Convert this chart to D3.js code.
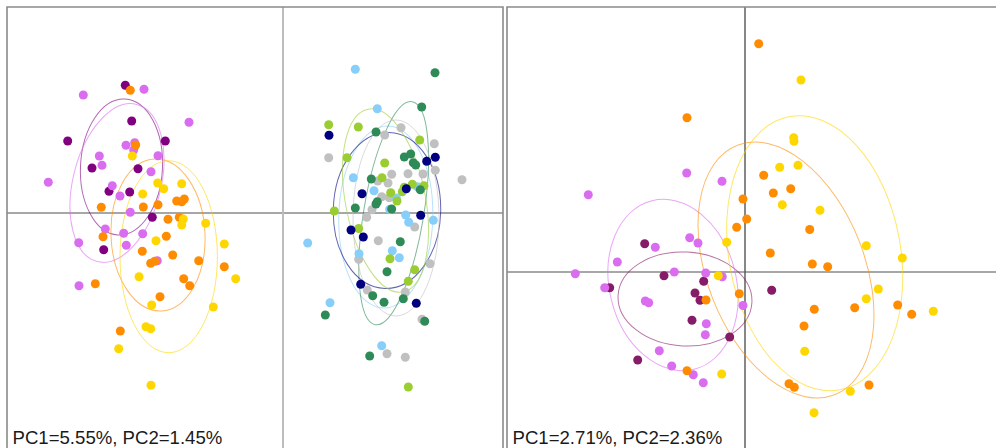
<!DOCTYPE html>
<html>
<head>
<meta charset="utf-8">
<script src="https://cdn.jsdelivr.net/npm/d3@7"></script>
<style>
  html, body { margin: 0; padding: 0; background: #fff; }
  svg { display: block; }
</style>
</head>
<body>
<svg id="chart" width="996" height="448"></svg>
<script>
// ---------------- DATA (PC scores, arbitrary units) ----------------
// Left panel groups
const leftDarkPurple = [[-1.577,1.277],[-1.513,0.92],[-2.153,0.72],[-1.177,0.72],[-1.91,0.45],[-1.45,0.443],[-1.74,0.217],[-1.533,0.21],[-1.307,-0.043],[-1.793,-0.367]];
const leftViolet = [[-1.997,1.18],[-1.39,1.237],[-0.94,0.907],[-1.57,0.677],[-1.483,0.703],[-1.493,0.63],[-1.837,0.57],[-1.81,0.477],[-1.25,0.573],[-1.32,0.413],[-2.347,0.307],[-1.707,0.273],[-1.63,0.17],[-1.527,0.007],[-1.777,-0.16],[-1.593,-0.203],[-1.403,-0.207],[-2.043,-0.297],[-1.567,-0.323],[-1.257,-0.477],[-2.04,-0.727]];
const leftOrange = [[-1.527,1.227],[-1.473,0.68],[-1.063,0.12],[-1.013,0.113],[-0.987,0.14],[-1.25,0.083],[-1.817,0.057],[-1.397,0.06],[-1.15,-0.063],[-1.037,-0.043],[-1.8,-0.237],[-1.167,-0.233],[-1.407,-0.383],[-1.103,-0.42],[-1.283,-0.483],[-1.323,-0.503],[-0.843,-0.477],[-0.587,-0.537],[-0.993,-0.657],[-0.933,-0.727],[-1.877,-0.707],[-1.23,-0.837],[-1.627,-1.18]];
const leftGold = [[-1.507,0.57],[-1.253,0.3],[-1.013,0.293],[-1.193,0.243],[-1.403,0.19],[-0.997,-0.06],[-1.013,-0.12],[-0.773,-0.103],[-1.27,-0.277],[-0.587,-0.31],[-1.44,-0.637],[-0.473,-0.657],[-1.313,-0.92],[-0.697,-0.94],[-1.37,-1.137],[-1.323,-1.157],[-1.643,-1.357],[-1.32,-1.723]];
const leftSky = [[0.723,1.437],[0.943,1.043],[0.703,0.353],[1.343,0.263],[0.91,0.223],[1.133,0.15],[1.067,0.037],[1.227,-0.02],[1.257,-0.093],[1.503,-0.073],[0.247,-0.3],[1.093,-0.377],[1.163,-0.447],[0.76,-0.407],[0.47,-0.897],[0.987,-1.327]];
const leftGreen = [[1.52,1.403],[1.387,1.06],[0.93,0.81],[1.213,0.56],[1.277,0.59],[1.303,0.503],[1.327,0.48],[0.883,0.34],[1.373,0.233],[0.943,0.113],[0.93,0.09],[0.723,0.05],[1.087,0.04],[1.173,-0.287],[1.04,-0.587],[0.897,-0.827],[1.01,-0.893],[1.203,-0.857],[0.423,-1.02],[1.417,-1.083],[0.867,-1.43]];
const leftNavy = [[0.46,0.777],[1.437,0.517],[1.523,0.557],[1.233,0.243],[0.79,0.193],[1.377,-0.023],[0.68,-0.17],[0.803,-0.24],[0.777,-0.713],[1.333,-0.903]];
const leftLime = [[0.457,0.883],[0.753,0.86],[1.367,0.73],[0.64,0.553],[1.017,0.5],[0.99,0.353],[1.213,0.257],[1.293,0.287],[1.41,0.273],[1.077,0.203],[1.14,0.12],[1.193,0.213],[0.513,0.02],[0.757,-0.155],[1.07,-0.457],[1.317,-0.567],[1.253,-0.683],[1.253,-1.74]];
const leftGray = [[1.017,0.78],[1.18,0.853],[1.513,0.693],[0.457,0.553],[1.523,0.427],[1.79,0.333],[1.087,0.387],[1.25,0.393],[1.4,0.39],[0.947,0.32],[1.05,0.3],[0.987,0.163],[1.063,0.153],[0.89,0.033],[0.837,-0.043],[1.317,-0.14],[0.953,-0.277],[0.757,-0.463],[1.47,-0.507],[0.843,-0.77],[1.223,-0.79],[1.39,-1.063],[1.04,-1.407],[1.223,-1.443]];

// Right panel groups
const rightDark = [[0.267,-0.183],[-1.003,0.283],[-0.81,-0.037],[-0.413,-0.093],[-1.353,-0.157],[-0.5,-0.21],[-0.45,-0.283],[-0.53,-0.483],[-0.153,-0.65],[-1.073,-0.88]];
const rightViolet = [[-0.583,0.99],[-0.23,0.907],[-1.567,0.773],[-0.553,0.343],[-0.47,0.29],[-0.897,0.247],[-1.277,0.1],[-1.697,-0.017],[-0.707,0],[-0.393,-0.01],[-0.227,-0.047],[-1.403,-0.157],[-0.02,-0.335],[-0.997,-0.29],[-0.963,-0.307],[-0.387,-0.517],[-0.397,-0.627],[-0.857,-0.787],[-0.733,-0.94],[-0.517,-1.027],[-0.417,-1.107]];
const rightOrange = [[-0.58,1.543],[-0.02,0.73],[0.017,0.53],[-0.083,0.447],[0.137,2.283],[0.187,0.967],[0.283,0.79],[0.457,0.833],[0.647,0.425],[0.253,0.19],[0.673,0.08],[0.827,0.053],[1.097,-0.357],[1.527,-0.33],[1.667,-0.423],[0.693,-0.373],[0.59,-0.54],[0.44,-1.117],[0.493,-1.153],[1.24,-1.13],[-0.057,-0.217],[-0.39,-0.28],[-0.58,-0.987]];
const rightGold = [[0.56,1.92],[0.487,1.343],[0.49,1.307],[0.347,1.047],[0.53,1.067],[0.373,0.673],[0.75,0.617],[1.213,0.263],[1.573,0.14],[1.333,-0.17],[1.213,-0.267],[1.883,-0.393],[0.597,-0.793],[1.053,-1.193],[0.69,-1.407],[-0.183,0.297],[-0.267,-0.037],[-0.233,-1.02]];

// Confidence ellipses: [centerX, centerY, semiX, semiY, rotationDeg]
const leftEllipses = {
  darkPurple: [-1.615, 0.46, 0.41, 0.68, 3],
  violet:     [-1.66, 0.30, 0.44, 0.81, 14],
  orange:     [-1.25, -0.22, 0.47, 0.76, -2.5],
  gold:       [-1.143, -0.437, 0.487, 0.96, 0],
  sky:        [1.028, -0.04, 0.47, 0.91, 1.5],
  green:      [1.107, -0.002, 0.30, 1.13, 9.4],
  navy:       [1.04, 0.025, 0.537, 0.78, 1.5],
  lime:       [1.025, 0.125, 0.40, 0.93, -10.8],
  gray:       [1.13, -0.05, 0.43, 0.98, 0]
};
const rightEllipses = {
  dark:   [-0.6, -0.27, 0.67, 0.47, 3],
  violet: [-0.72, -0.13, 0.634, 0.869, -14],
  orange: [0.41, 0.02, 0.787, 1.339, -21.3],
  gold:   [0.697, 0.188, 0.858, 1.389, -10.4]
};

const leftLabel = "PC1=5.55%, PC2=1.45%";
const rightLabel = "PC1=2.71%, PC2=2.36%";

const leftXDomain = [-2.76, 2.2], leftYDomain = [-2.35, 2.06];
const rightXDomain = [-2.38, 2.51], rightYDomain = [-1.76, 2.65];

// ---------------- STYLES ----------------
const colors = {
  darkPurple: "#800080", violet: "#da6cf0", orange: "#ff8c00", gold: "#ffd700",
  sky: "#87cefa", green: "#2e8b57", navy: "#000080", lime: "#9acd32", gray: "#c0c0c0",
  dark: "#861c68"
};

const svg = d3.select("#chart");

function drawPanel(opts) {
  const g = svg.append("g");
  const x = d3.scaleLinear().domain(opts.xDomain).range([opts.x0, opts.x1]);
  const y = d3.scaleLinear().domain(opts.yDomain).range([448, 7]);

  // zero lines
  g.append("line")
    .attr("x1", opts.x0).attr("x2", opts.x1)
    .attr("y1", y(0)).attr("y2", y(0))
    .attr("stroke", "#505050").attr("stroke-width", 1.1);
  g.append("line")
    .attr("x1", x(0)).attr("x2", x(0))
    .attr("y1", 7).attr("y2", 448)
    .attr("stroke", opts.vColor).attr("stroke-width", opts.vWidth);

  // ellipses
  Object.entries(opts.ellipses).forEach(([key, e]) => {
    const cx = x(e[0]), cy = y(e[1]);
    g.append("ellipse")
      .attr("cx", cx).attr("cy", cy)
      .attr("rx", x(e[0] + e[2]) - cx)
      .attr("ry", cy - y(e[1] + e[3]))
      .attr("transform", `rotate(${e[4]},${cx},${cy})`)
      .attr("fill", "none")
      .attr("stroke", colors[key])
      .attr("stroke-opacity", 0.6)
      .attr("stroke-width", 1);
  });

  // points
  opts.groups.forEach(([key, pts]) => {
    g.append("g").selectAll("circle")
      .data(pts)
      .join("circle")
      .attr("cx", d => x(d[0]))
      .attr("cy", d => y(d[1]))
      .attr("r", 4.5)
      .attr("fill", colors[key]);
  });

  // border (left, top, right)
  g.append("path")
    .attr("d", opts.borderPath)
    .attr("fill", "none")
    .attr("stroke", "#8a8a8a")
    .attr("stroke-width", 1.6);

  g.append("text")
    .attr("x", opts.x0 + 5.5)
    .attr("y", 443.5)
    .attr("font-family", "'Liberation Sans', Arial, sans-serif")
    .attr("font-size", 18.6)
    .attr("fill", "#1a1a1a")
    .text(opts.label);
}

drawPanel({
  x0: 7, x1: 503, xDomain: leftXDomain, yDomain: leftYDomain,
  vColor: "#bdbdbd", vWidth: 2,
  ellipses: leftEllipses,
  groups: [["darkPurple", leftDarkPurple], ["violet", leftViolet], ["orange", leftOrange], ["gold", leftGold],
           ["gray", leftGray], ["sky", leftSky], ["lime", leftLime], ["green", leftGreen], ["navy", leftNavy]],
  borderPath: "M7,448 V7 H503 V448",
  label: leftLabel
});

drawPanel({
  x0: 507, x1: 996, xDomain: rightXDomain, yDomain: rightYDomain,
  vColor: "#555", vWidth: 1.4,
  ellipses: rightEllipses,
  groups: [["dark", rightDark], ["violet", rightViolet], ["orange", rightOrange], ["gold", rightGold]],
  borderPath: "M507,448 V7 H997",
  label: rightLabel
});
</script>
</body>
</html>
